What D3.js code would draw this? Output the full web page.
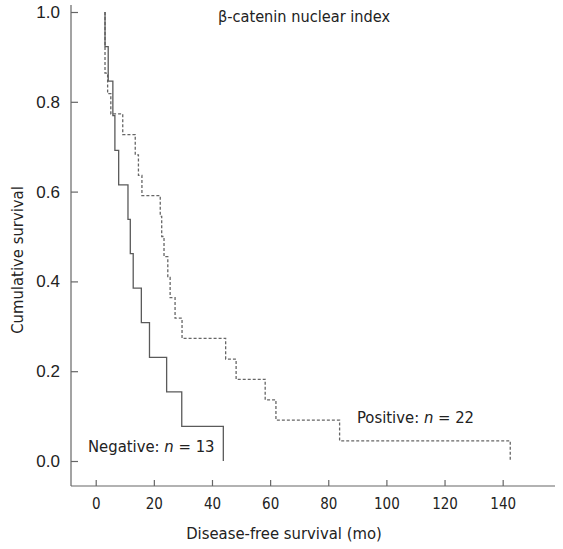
<!DOCTYPE html>
<html><head><meta charset="utf-8">
<script src="https://cdn.jsdelivr.net/npm/d3@7"></script>
<style>
html,body{margin:0;padding:0;background:#fff;}
svg{display:block;}
.cond{font-family:"DejaVu Sans Condensed","DejaVu Sans",sans-serif;font-stretch:condensed;}
</style></head>
<body>
<svg id="chart" width="563" height="549"></svg>
<script>
// Data
const chartTitle = "β-catenin nuclear index";
const xTicks = [0, 20, 40, 60, 80, 100, 120, 140];
const yTicks = [0.0, 0.2, 0.4, 0.6, 0.8, 1.0];
const negTimes = [3.2, 4.3, 5.9, 6.6, 7.9, 11.1, 11.9, 12.9, 15.7, 18.5, 24.4, 29.6, 43.9];
const negSurv  = [0.923, 0.846, 0.769, 0.692, 0.615, 0.538, 0.462, 0.385, 0.308, 0.231, 0.154, 0.077, 0.0];
const posTimes = [3.2, 4.1, 5.2, 9.3, 13.6, 14.7, 15.9, 22.2, 22.7, 23.5, 24.8, 25.6, 27.3, 29.7, 44.7, 48.3, 58.3, 62.0, 83.9, 142.6];
const posSurv  = [0.864, 0.818, 0.773, 0.727, 0.682, 0.636, 0.591, 0.545, 0.500, 0.455, 0.409, 0.364, 0.318, 0.273, 0.227, 0.182, 0.136, 0.091, 0.045, 0.0];

const svg = d3.select("#chart");
const x = d3.scaleLinear().domain([-8.5, 158]).range([71, 555]);
const y = d3.scaleLinear().domain([0, 1]).range([461, 12]);
const axisColor = "#666";

// axis lines
svg.append("line").attr("x1", 71).attr("x2", 71).attr("y1", 5).attr("y2", 486)
  .attr("stroke", axisColor).attr("stroke-width", 1.2);
svg.append("line").attr("x1", 71).attr("x2", 555).attr("y1", 486).attr("y2", 486)
  .attr("stroke", axisColor).attr("stroke-width", 1.2);

// y axis
const gy = svg.append("g").attr("transform", "translate(71,0)")
  .call(d3.axisLeft(y).tickValues(yTicks).tickFormat(d3.format(".1f"))
    .tickSizeInner(-7).tickSizeOuter(0).tickPadding(11));
gy.select(".domain").remove();
gy.selectAll(".tick line").attr("stroke", axisColor).attr("stroke-width", 1.2);
gy.selectAll(".tick text").attr("fill", "#222")
  .style("font-family", "'Liberation Sans', Arial, sans-serif").style("font-size", "17px");

// x axis
const gx = svg.append("g").attr("transform", "translate(0,486)")
  .call(d3.axisBottom(x).tickValues(xTicks).tickSizeInner(-6).tickSizeOuter(0).tickPadding(12));
gx.select(".domain").remove();
gx.selectAll(".tick line").attr("stroke", axisColor).attr("stroke-width", 1.2);
gx.selectAll(".tick text").attr("fill", "#222").attr("class", "cond").style("font-size", "15px");

// curves
const line = d3.line().x(d => x(d[0])).y(d => y(d[1])).curve(d3.curveStepAfter);
const posPts = [[posTimes[0], 1]].concat(posTimes.map((t, i) => [t, posSurv[i]]));
const negPts = [[negTimes[0], 1]].concat(negTimes.map((t, i) => [t, negSurv[i]]));
svg.append("path").attr("d", line(posPts)).attr("fill", "none")
  .attr("stroke", "#666").attr("stroke-width", 1.3).attr("stroke-dasharray", "3,2");
svg.append("path").attr("d", line(negPts)).attr("fill", "none")
  .attr("stroke", "#5a5a5a").attr("stroke-width", 1.3);

// texts
svg.append("text").attr("class", "cond").attr("x", 304).attr("y", 22)
  .attr("text-anchor", "middle").attr("fill", "#222").style("font-size", "16.2px").text(chartTitle);
svg.append("text").attr("class", "cond").attr("x", 284).attr("y", 539)
  .attr("text-anchor", "middle").attr("fill", "#222").style("font-size", "16.5px").text("Disease-free survival (mo)");
svg.append("text").attr("class", "cond").attr("transform", "translate(23,260) rotate(-90)")
  .attr("text-anchor", "middle").attr("fill", "#222").style("font-size", "16.5px").text("Cumulative survival");

function label(xp, yp, pre, num) {
  const t = svg.append("text").attr("class", "cond").attr("x", xp).attr("y", yp)
    .attr("fill", "#222").style("font-size", "16.5px");
  t.append("tspan").text(pre);
  t.append("tspan").style("font-style", "italic").text("n");
  t.append("tspan").text(" = " + num);
}
label(88, 452, "Negative: ", 13);
label(357, 423, "Positive: ", 22);
</script>
</body></html>
